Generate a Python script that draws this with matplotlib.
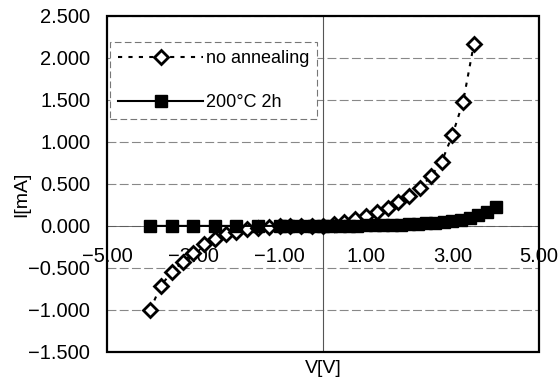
import numpy as np
import matplotlib.pyplot as plt
from matplotlib.patches import Rectangle

plt.rcParams['font.family'] = ['Liberation Sans', 'DejaVu Sans']

# no annealing (hollow diamonds)
v_no = [-4.0, -3.75, -3.5, -3.25, -3.0, -2.75, -2.5, -2.25, -2.0, -1.75, -1.5,
        -1.25, -1.0, -0.75, -0.5, -0.25, 0.0, 0.25, 0.5, 0.75, 1.0, 1.25, 1.5,
        1.75, 2.0, 2.25, 2.5, 2.75, 3.0, 3.25, 3.5]
i_no = [-1.00, -0.71, -0.55, -0.43, -0.32, -0.22, -0.15, -0.10, -0.07, -0.04, -0.02,
        -0.01, 0.00, 0.00, 0.00, 0.00, 0.00, 0.02, 0.05, 0.08, 0.12, 0.16, 0.21,
        0.28, 0.35, 0.45, 0.59, 0.76, 1.08, 1.48, 2.17]

# 200C 2h (filled squares)
v_an = [-4.0, -3.5, -3.0, -2.5, -2.0, -1.5, -1.0, -0.8, -0.6, -0.4, -0.2,
        0.0, 0.2, 0.4, 0.6, 0.8, 1.0, 1.2, 1.4, 1.6, 1.8, 2.0, 2.2, 2.4, 2.6,
        2.8, 3.0, 3.2, 3.4, 3.6, 3.8, 4.0]
i_an = [0.0, 0.0, 0.0, 0.0, 0.0, 0.0, 0.0, 0.0, 0.0, 0.0, 0.0,
        0.0, 0.001, 0.002, 0.003, 0.004, 0.005, 0.007, 0.009, 0.012, 0.015, 0.019,
        0.024, 0.030, 0.038, 0.048, 0.060, 0.075, 0.095, 0.13, 0.17, 0.23]

xticks = [-5, -3, -1, 1, 3, 5]
yticks = [-1.5, -1.0, -0.5, 0.0, 0.5, 1.0, 1.5, 2.0, 2.5]

fig = plt.figure(figsize=(5.6, 3.78), dpi=100)
ax = fig.add_axes([0.191, 0.069, 0.771, 0.889])

ax.plot(v_no, i_no, color='black', linestyle=(0, (2, 3)), lw=1.5,
        marker='D', markersize=7.5, markerfacecolor='white',
        markeredgecolor='black', markeredgewidth=2, label='no annealing', zorder=3)
ax.plot(v_an, i_an, color='black', lw=1.5, marker='s', markersize=8.5,
        markerfacecolor='black', markeredgecolor='black', label='200°C 2h', zorder=4)

ax.set_xlim(-5, 5)
ax.set_ylim(-1.5, 2.5)
ax.set_xticks(xticks)
ax.set_yticks(yticks)
ax.set_xticklabels(['{:.2f}'.format(x).replace('-', '\u2212') for x in xticks])
ax.set_yticklabels(['{:.3f}'.format(y).replace('-', '\u2212') for y in yticks])
ax.tick_params(axis='both', length=0, labelsize=14.5)
ax.tick_params(axis='x', pad=15)
ax.tick_params(axis='y', pad=12)

ax.yaxis.grid(True, color='#888888', linestyle=(0, (8, 3)), lw=0.8)
ax.set_axisbelow(True)

# x axis crosses at zero
ax.spines['bottom'].set_position(('data', 0))
ax.spines['bottom'].set_color('#555555')
ax.spines['bottom'].set_linewidth(0.6)
for s in ['top', 'right', 'left']:
    ax.spines[s].set_visible(False)
ax.axvline(0, color='#555555', lw=0.8, zorder=1)
ax.add_patch(Rectangle((0, 0), 1, 1, transform=ax.transAxes, fill=False,
                       lw=1.6, edgecolor='black', clip_on=False, zorder=5))

fig.text(0.038, 0.487, 'I[mA]', rotation=90, ha='center', va='center', fontsize=14)
fig.text(0.577, 0.025, 'V[V]', ha='center', va='center', fontsize=14)

leg = ax.legend(loc='upper left', bbox_to_anchor=(0.007, 0.923), borderaxespad=0,
                fontsize=13, handlelength=4.7, handletextpad=0.15, labelspacing=1.5,
                borderpad=0.45, handleheight=0.7, fancybox=False, framealpha=1)
leg.get_frame().set_edgecolor('#777777')
leg.get_frame().set_linestyle((0, (6, 3)))
leg.get_frame().set_linewidth(0.8)

fig.savefig('out.png', dpi=100)
